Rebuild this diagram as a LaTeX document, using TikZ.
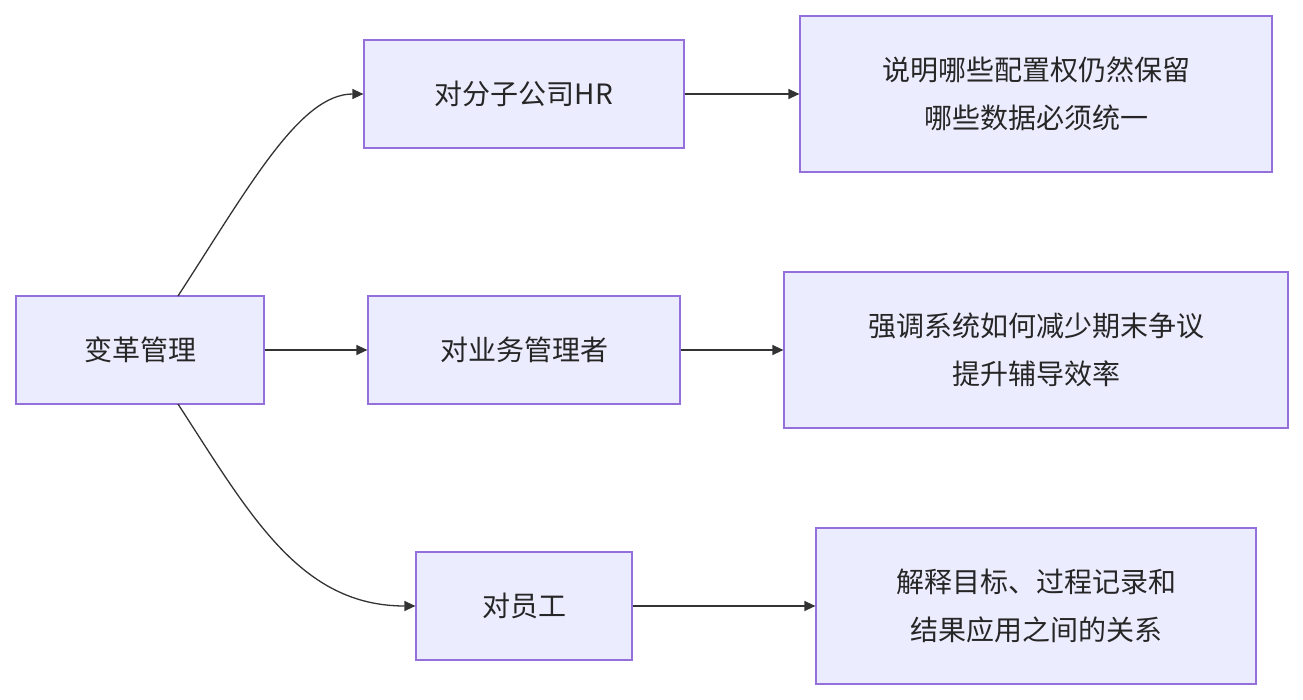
\documentclass[tikz,border=0pt]{standalone}
\usepackage{fontspec}
\setmainfont{Noto Sans CJK SC}
\usetikzlibrary{arrows.meta}
\definecolor{nfill}{HTML}{ECECFF}
\definecolor{nborder}{HTML}{9370DB}
\definecolor{edge}{HTML}{333333}
\begin{document}
\begin{tikzpicture}[x=1pt,y=-1pt,
  box/.style={draw=nborder,fill=nfill,line width=1.2pt,inner sep=0pt,align=center,font=\fontsize{28}{48}\selectfont,text=black!85},
  arr/.style={draw=edge,line width=1.3pt,-{Triangle[length=11pt,width=10pt]}}]
\useasboundingbox (0,0) rectangle (1303,700);
\node[box,minimum width=248pt,minimum height=108pt] (A) at (140,350) {变革管理};
\node[box,minimum width=320pt,minimum height=108pt] (B) at (524,94) {对分子公司HR};
\node[box,minimum width=312pt,minimum height=108pt] (C) at (524,350) {对业务管理者};
\node[box,minimum width=216pt,minimum height=108pt] (D) at (524,606) {对员工};
\node[box,minimum width=472pt,minimum height=156pt] (E) at (1036,94) {说明哪些配置权仍然保留\\哪些数据必须统一};
\node[box,minimum width=504pt,minimum height=156pt] (F) at (1036,350) {强调系统如何减少期末争议\\提升辅导效率};
\node[box,minimum width=440pt,minimum height=156pt] (G) at (1036,606) {解释目标、过程记录和\\结果应用之间的关系};
\coordinate (At) at (178,296);
\coordinate (Ab) at (178,404);
\draw[arr] (At) .. controls (250,185) and (300,94) .. (B.west);
\draw[arr] (Ab) .. controls (250,515) and (300,606) .. (D.west);
\draw[arr] (A.east) -- (C.west);
\draw[arr] (B.east) -- (E.west);
\draw[arr] (C.east) -- (F.west);
\draw[arr] (D.east) -- (G.west);
\end{tikzpicture}
\end{document}
